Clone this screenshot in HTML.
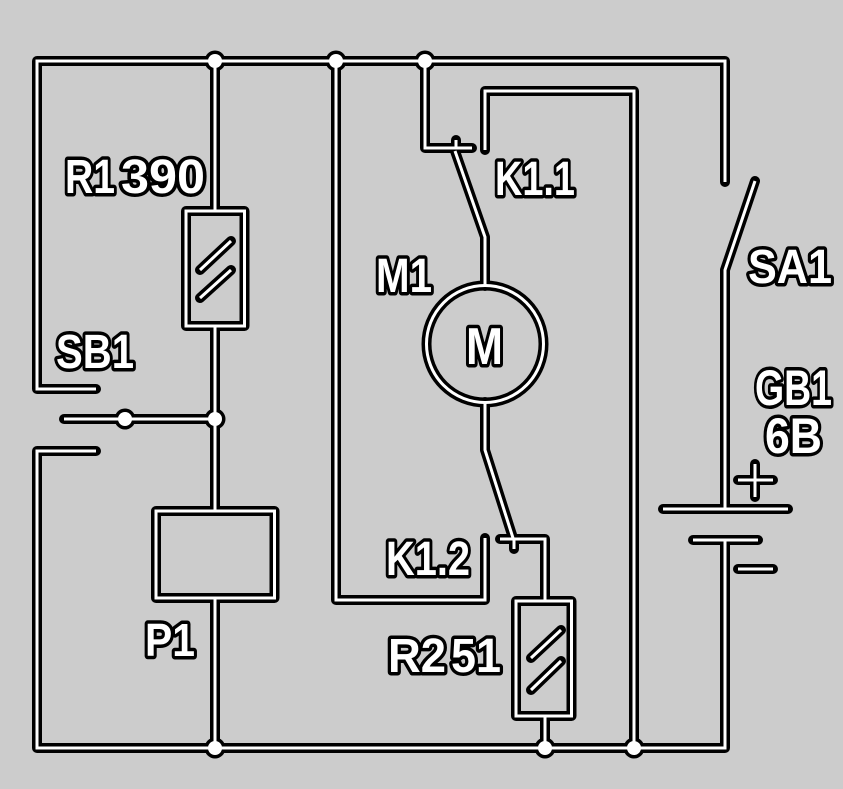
<!DOCTYPE html>
<html><head><meta charset="utf-8"><style>
html,body{margin:0;padding:0;background:#ccc;}
svg{display:block;}
text{font-family:"Liberation Sans",Arial,sans-serif;font-weight:bold;font-size:48px;fill:#fff;stroke:#000;stroke-width:7px;paint-order:stroke;stroke-linejoin:round;}
</style></head><body>
<svg width="843" height="789" viewBox="0 0 843 789" xmlns="http://www.w3.org/2000/svg">
<rect width="843" height="789" fill="#cccccc"/>
<defs>
<g id="w" fill="none">
  <!-- top loop from SB1 upper contact to SA1 upper contact -->
  <path d="M96,389 H37 V61 H725 V182"/>
  <!-- SB1 lower contact, bottom wire, battery minus -->
  <path d="M96,451 H37 V748 H725 V540"/>
  <!-- battery + and SA1 blade -->
  <path d="M755,181 L725,270 V509"/>
  <path d="M663,509 H788"/>
  <path d="M693,540 H758"/>
  <path d="M738,480 H773"/>
  <path d="M755,464 V497"/>
  <path d="M738,569 H773"/>
  <!-- SB1 middle -->
  <path d="M64,419 H215"/>
  <!-- R1 column -->
  <path d="M215,61 V211"/>
  <path d="M186,211 H244.5 V326 H186 Z"/>
  <path d="M215,326 V511"/>
  <path d="M156,511 H274.5 V598 H156 Z"/>
  <path d="M215,598 V748"/>
  <path d="M200,270 L231,241"/>
  <path d="M200,298 L231,270"/>
  <!-- middle loop -->
  <path d="M485,538 V600 H336 V61"/>
  <!-- K1.1 -->
  <path d="M425,61 V148 H472"/>
  <path d="M456,140 V148"/>
  <path d="M455,151 L485,237 V286"/>
  <path d="M485,150 V91 H634 V748"/>
  <!-- motor -->
  <circle cx="485" cy="344" r="58.5"/>
  <!-- K1.2 -->
  <path d="M485,402 V450 L513,538"/>
  <path d="M514,539 V549"/>
  <path d="M500,539 H545 V601"/>
  <!-- R2 -->
  <path d="M516,601 H571.5 V716 H516 Z"/>
  <path d="M531,658 L561,630"/>
  <path d="M531,690 L561,661"/>
  <path d="M545,716 V748"/>
</g>
<g id="n">
  <circle cx="215" cy="61" r="1"/>
</g>
</defs>
<use href="#w" stroke="#000" stroke-width="10" stroke-linecap="round" stroke-linejoin="round"/>
<g fill="#000">
  <circle cx="215" cy="61" r="10.5"/>
  <circle cx="336" cy="61" r="10.5"/>
  <circle cx="425" cy="61" r="10.5"/>
  <circle cx="125" cy="419" r="10.5"/>
  <circle cx="215" cy="419" r="10.5"/>
  <circle cx="215" cy="748" r="10.5"/>
  <circle cx="545" cy="748" r="10.5"/>
  <circle cx="634" cy="748" r="10.5"/>
</g>
<use href="#w" stroke="#fff" stroke-width="3" stroke-linecap="butt" stroke-linejoin="miter"/>
<g fill="#fff">
  <circle cx="215" cy="61" r="7"/>
  <circle cx="336" cy="61" r="7"/>
  <circle cx="425" cy="61" r="7"/>
  <circle cx="125" cy="419" r="7"/>
  <circle cx="215" cy="419" r="7"/>
  <circle cx="215" cy="748" r="7"/>
  <circle cx="545" cy="748" r="7"/>
  <circle cx="634" cy="748" r="7"/>
</g>
<text x="65" y="193" textLength="50" lengthAdjust="spacingAndGlyphs">R1</text>
<text x="121" y="193" textLength="84" lengthAdjust="spacingAndGlyphs">390</text>
<text x="495" y="195" textLength="80" lengthAdjust="spacingAndGlyphs">K1.1</text>
<text x="56" y="368" textLength="78" lengthAdjust="spacingAndGlyphs">SB1</text>
<text x="376" y="292" textLength="56" lengthAdjust="spacingAndGlyphs">M1</text>
<text x="466" y="364" textLength="37" lengthAdjust="spacingAndGlyphs" style="font-size:52px">M</text>
<text x="748" y="283" textLength="84" lengthAdjust="spacingAndGlyphs">SA1</text>
<text x="755" y="405" textLength="77" lengthAdjust="spacingAndGlyphs" style="font-size:50px">GB1</text>
<text x="765" y="453" textLength="57" lengthAdjust="spacingAndGlyphs" style="font-size:50px">6B</text>
<text x="386" y="575" textLength="84" lengthAdjust="spacingAndGlyphs">K1.2</text>
<text x="388" y="672" textLength="58" lengthAdjust="spacingAndGlyphs">R2</text>
<text x="451" y="672" textLength="50" lengthAdjust="spacingAndGlyphs">51</text>
<text x="145" y="656" textLength="50" lengthAdjust="spacingAndGlyphs" style="font-size:46px">P1</text>
</svg>
</body></html>
